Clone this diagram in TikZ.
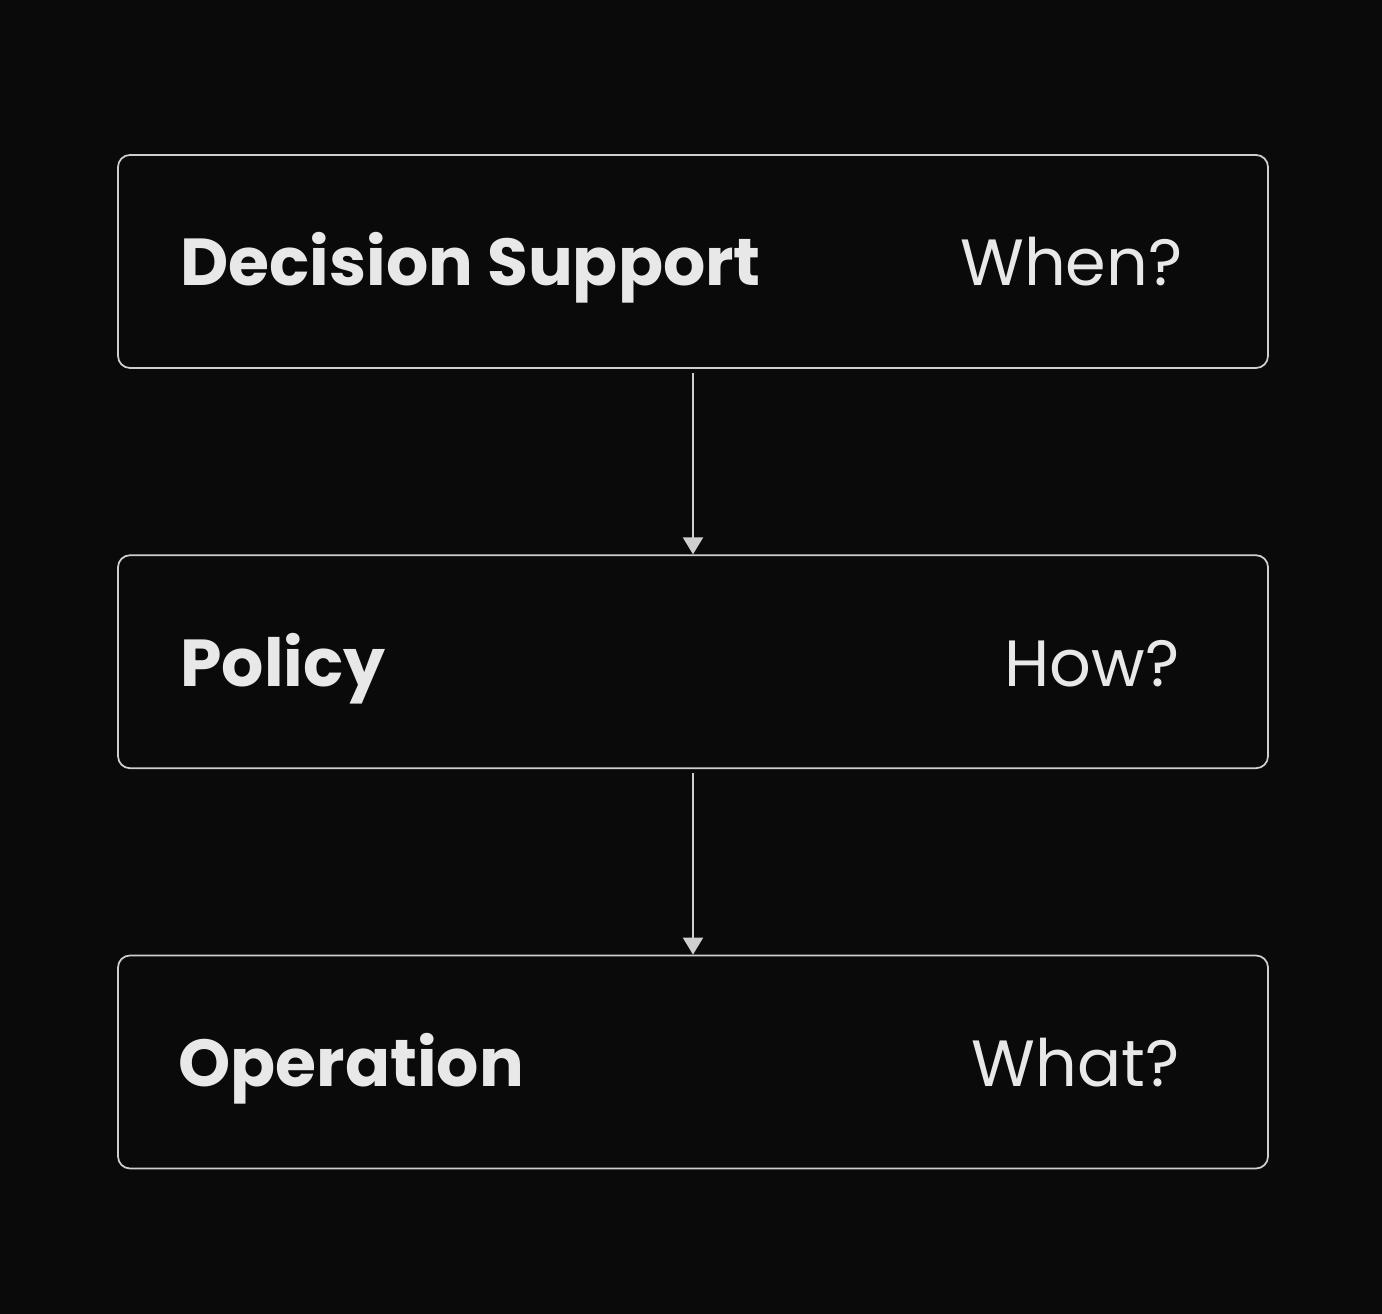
\documentclass[tikz,border=0pt]{standalone}
\usepackage{fontspec}
\setmainfont{Poppins}
\usetikzlibrary{positioning,arrows.meta}
\definecolor{bgdark}{HTML}{0A0A0A}
\definecolor{edgegray}{HTML}{CFCFCF}
\definecolor{textwhite}{HTML}{E8E8E8}

\begin{document}
\begin{tikzpicture}[
    node distance=1.855cm,
    every node/.style={font=\fontsize{18.6}{22}\selectfont, text=textwhite},
    layer/.style={draw=edgegray, line width=0.5pt, rectangle, rounded corners=0.12cm, minimum width=11.5cm, minimum height=2.13cm},
    title/.style={anchor=base west, font=\fontsize{18.9}{22}\selectfont\bfseries},
    question/.style={anchor=base east},
    arrow/.style={-{Triangle[width=0.2cm, length=0.17cm]}, draw=edgegray, line width=0.6pt}
]

% Background and frame
\fill[bgdark] (0,0) rectangle (13.82,13.14);
\useasboundingbox (0,0) rectangle (13.82,13.14);

% Layers
\node[layer] (ds) at (6.93,10.525) {};
\node[layer, below=of ds] (pol) {};
\node[layer, below=of pol] (op) {};

% Labels
\node[title] (dstitle) at ([xshift=0.51cm, yshift=-0.245cm]ds.west) {Decision Support};
\node[question] (dsq) at ([xshift=-0.74cm, yshift=-0.245cm]ds.east) {When?};
\node[title] (poltitle) at ([xshift=0.51cm, yshift=-0.245cm]pol.west) {Policy};
\node[question] (polq) at ([xshift=-0.77cm, yshift=-0.245cm]pol.east) {How?};
\node[title] (optitle) at ([xshift=0.49cm, yshift=-0.245cm]op.west) {Operation};
\node[question] (opq) at ([xshift=-0.77cm, yshift=-0.245cm]op.east) {What?};

% Arrows between layers
\draw[arrow, shorten <=0.04cm] (ds) -- (pol);
\draw[arrow, shorten <=0.04cm] (pol) -- (op);

\end{tikzpicture}
\end{document}
